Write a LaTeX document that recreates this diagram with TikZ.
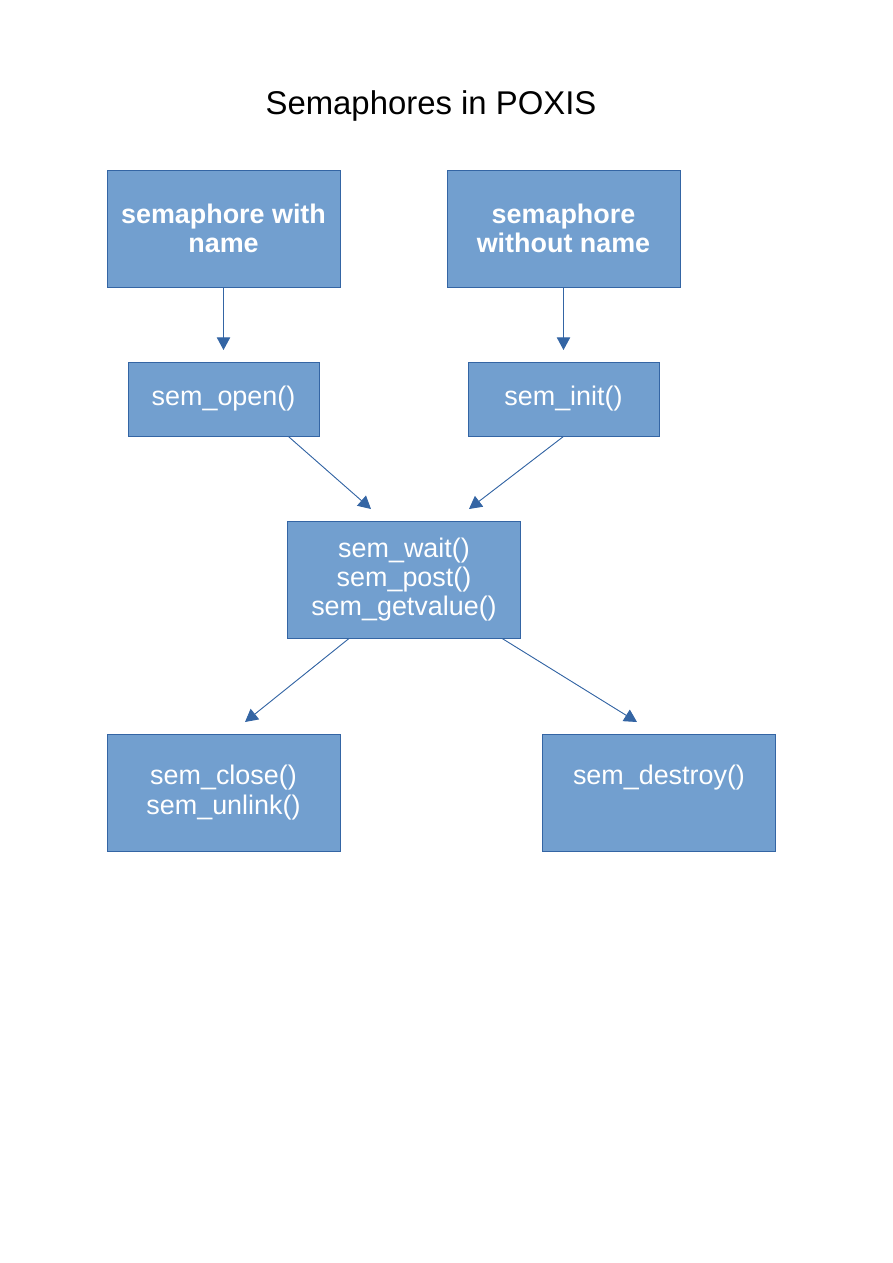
\documentclass[tikz,border=0pt]{standalone}
\usepackage{fontspec}
\setmainfont{Liberation Sans}
\usepackage{tikz}
\usetikzlibrary{arrows.meta,positioning}
\definecolor{boxfill}{HTML}{729FCF}
\definecolor{boxdraw}{HTML}{3465A4}
\tikzset{
  semblock/.style={
    draw=boxdraw,
    fill=boxfill,
    text=white,
    line width=0.6pt,
    align=center,
    font=\fontsize{18}{19.7}\selectfont,
    minimum width=155.9pt,
    minimum height=78.3pt,
    inner sep=2pt
  },
  callblock/.style={
    semblock,
    minimum width=127.8pt,
    minimum height=49.5pt
  },
  kindblock/.style={
    semblock,
    font=\fontsize{18}{19.7}\selectfont\bfseries
  },
  toptext/.style={text depth=23.5pt},
  line/.style={-{Triangle[length=8.5pt,width=9pt]}, line width=0.6pt, draw=boxdraw, fill=boxdraw},
  titletext/.style={font=\fontsize{22}{26}\selectfont}
}
\begin{document}
\begin{tikzpicture}[x=0.023516cm, y=-0.023516cm]
\useasboundingbox (0,0) rectangle (893,1263);
\node[titletext] (title) at (431,106) {Semaphores in POXIS};

\node[kindblock] (named) at (223.5,228.5) {semaphore with\\name};
\node[kindblock] (unnamed) at (563.5,228.5) {semaphore\\without name};
\node[callblock] (open) at (223.5,399) {sem\_open()};
\node[callblock] (init) at (563.5,399) {sem\_init()};
\node[semblock] (ops) at (404,579.5) {sem\_wait()\\sem\_post()\\sem\_getvalue()};
\node[semblock] (close) at (223.5,792.5) {sem\_close()\\sem\_unlink()};
\node[semblock, toptext] (destroy) at (659,792.5) {sem\_destroy()};

% arrow tips stop short of the boxes
\coordinate (toopen) at (223.5,350);
\coordinate (toinit) at (563.5,350);
\coordinate (opsleft) at (371,509);
\coordinate (opsright) at (469,509);
\coordinate (toclose) at (245,722);
\coordinate (todestroy) at (637,722);

\draw[line] (named.south) -- (toopen);
\draw[line] (unnamed.south) -- (toinit);
\draw[line] (open.-30) -- (opsleft);
\draw[line] (init.south) -- (opsright);
\draw[line] (ops.-133) -- (toclose);
\draw[line] (ops.-31.4) -- (todestroy);
\end{tikzpicture}
\end{document}
